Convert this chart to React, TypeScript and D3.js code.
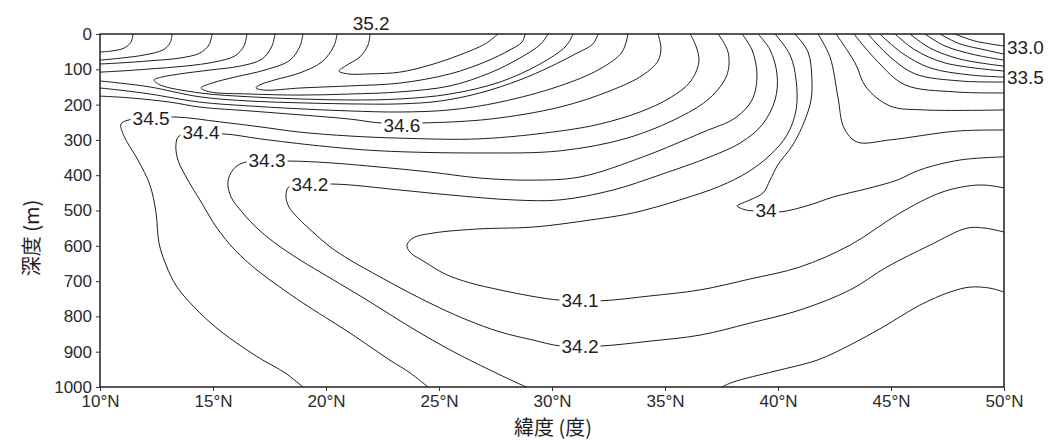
import { useEffect, useRef } from 'react';

import * as d3 from 'd3';

const width = 1054;
const height = 446;
const [left, right, top, bottom] = [100, 1004, 34, 387];

type Pt = [number, number]; // [緯度 °N, 深度 m]

// 塩分の等値線 (読み取り値)
const s352: Pt[] = [[21.95, 0], [21.86, 31], [21.5, 65], [20.93, 88], [20.58, 105], [20.97, 113], [21.95, 113], [23.27, 108], [24.6, 88], [25.93, 59], [27.04, 28], [27.61, 0]];
const s351: Pt[] = [[20.49, 0], [20.35, 34], [19.82, 79], [18.85, 110], [17.74, 130], [17.08, 144], [16.9, 153], [17.3, 159], [18.85, 153], [21.06, 147], [23.27, 139], [25.49, 113], [27.04, 79], [28.14, 45], [28.67, 23], [28.81, 0]];
const s350: Pt[] = [[18.98, 0], [18.85, 34], [18.41, 74], [17.3, 102], [15.97, 122], [14.96, 139], [14.47, 153], [14.87, 164], [16.64, 170], [18.85, 173], [21.06, 170], [23.27, 164], [25.49, 147], [27.26, 110], [28.58, 68], [29.51, 28], [29.82, 0]];
const s349: Pt[] = [[17.74, 0], [17.61, 34], [17.17, 71], [16.19, 91], [14.87, 102], [13.54, 113], [12.74, 122], [12.39, 130], [12.65, 144], [14.42, 167], [16.64, 178], [18.85, 184], [21.06, 187], [23.27, 184], [25.49, 170], [27.7, 136], [29.47, 85], [30.62, 34], [30.93, 0]];
const s348a: Pt[] = [[16.5, 0], [16.37, 34], [15.97, 62], [15.09, 79], [13.76, 91], [12.21, 99], [10.88, 105], [10, 108]];
const s348b: Pt[] = [[10, 133], [10.88, 139], [12.21, 150], [14.42, 178], [16.64, 190], [18.85, 195], [21.06, 198], [23.27, 198], [25.04, 190], [26.81, 167], [28.58, 130], [29.91, 93], [31.02, 57], [31.81, 28], [32.04, 0]];
const s347a: Pt[] = [[14.96, 0], [14.82, 31], [14.42, 54], [13.54, 68], [12.21, 76], [10.88, 82], [10, 85]];
const s347b: Pt[] = [[10, 153], [10.88, 159], [12.21, 170], [14.42, 193], [16.64, 204], [18.85, 212], [21.06, 218], [23.27, 221], [25.49, 215], [27.7, 193], [30.35, 147], [32.12, 99], [33.1, 51], [33.36, 0]];
const s346a: Pt[] = [[13.19, 0], [13.1, 25], [12.79, 45], [11.99, 59], [10.97, 68], [10, 74]];
const s346b: Pt[] = [[10, 176], [11.33, 181], [13.1, 193], [14.42, 207], [16.64, 218], [18.85, 229], [21.06, 241], [22.43, 252], [24.29, 252], [27.26, 241], [30.35, 207], [32.57, 161], [34.03, 116], [34.69, 76], [34.82, 40], [34.69, 0]];
const s345a: Pt[] = [[11.46, 0], [11.37, 23], [11.06, 40], [10.53, 48], [10, 51]];
const s345b: Pt[] = [[18.98, 1000], [18.19, 960], [17.21, 924], [16.64, 901], [15.44, 847], [14.42, 790], [13.41, 717], [12.92, 654], [12.61, 592], [12.48, 507], [12.21, 428], [11.68, 357], [11.06, 289], [10.93, 255], [11.24, 244], [13.27, 235], [15.31, 249], [17.08, 263], [18.85, 278], [21.06, 289], [23.27, 295], [26.81, 297], [30.35, 275], [32.12, 255], [33.89, 221], [35.22, 181], [36.11, 136], [36.5, 79], [36.37, 34], [36.11, 0]];
const s344: Pt[] = [[24.51, 1000], [23.72, 960], [22.83, 924], [21.06, 847], [18.98, 762], [17.96, 717], [16.95, 669], [15.97, 612], [15.18, 550], [14.42, 470], [13.89, 414], [13.45, 357], [13.36, 314], [13.5, 289], [15.44, 283], [17.08, 297], [19.73, 317], [22.39, 331], [26.81, 337], [30.35, 331], [33.32, 295], [35.66, 235], [36.99, 181], [37.74, 116], [37.79, 51], [37.35, 0]];
const s343a: Pt[] = [[28.89, 1000], [28.58, 992], [27.26, 952], [25.49, 895], [23.72, 830], [21.95, 759], [20.18, 691], [18.85, 640], [17.74, 592], [16.95, 550], [16.28, 504], [15.8, 462], [15.66, 419], [15.88, 385], [16.33, 365], [18.36, 360], [20.18, 365], [22.39, 377], [24.6, 391], [26.81, 408], [29.03, 414], [31.24, 405], [34.03, 348], [36.68, 278], [38.1, 238], [38.85, 187], [39.07, 116], [38.85, 45], [38.41, 0]];
const s343b: Pt[] = [[37.52, 1000], [38.01, 986], [39.87, 955], [41.73, 924], [43.19, 881], [44.65, 830], [46.28, 768], [47.61, 731], [48.5, 717], [49.38, 720], [50, 731]];
const s342: Pt[] = [[50, 561], [49.16, 550], [48.36, 550], [46.73, 598], [44.82, 660], [43.19, 725], [40.97, 782], [38.76, 819], [36.55, 853], [34.34, 870], [32.12, 884], [30.4, 884], [29.16, 867], [27.7, 844], [26.24, 810], [25.04, 776], [23.72, 734], [22.39, 688], [21.06, 640], [20.18, 603], [19.42, 561], [18.76, 521], [18.36, 490], [18.23, 459], [18.36, 433], [20.27, 425], [23.27, 442], [25.49, 456], [28.27, 470], [30.35, 470], [32.7, 442], [34.78, 399], [36.99, 348], [38.32, 309], [39.29, 258], [39.87, 187], [39.96, 116], [39.65, 45], [39.12, 0]];
const s341: Pt[] = [[50, 436], [49.16, 428], [48.36, 431], [47.17, 450], [45.4, 507], [43.19, 598], [40.97, 660], [38.76, 694], [36.55, 725], [34.34, 742], [32.12, 756], [30.35, 754], [29.03, 742], [27.7, 725], [26.37, 705], [25.27, 680], [24.38, 646], [23.72, 618], [23.58, 598], [23.85, 578], [24.73, 564], [26.81, 552], [29.16, 547], [31.68, 527], [33.58, 507], [35.66, 470], [37.43, 431], [38.67, 391], [39.65, 343], [40.4, 286], [40.8, 215], [40.8, 130], [40.53, 59], [39.87, 0]];
const s340: Pt[] = [[40.75, 0], [41.33, 51], [41.5, 130], [41.46, 187], [41.19, 244], [40.66, 314], [39.99, 371], [39.65, 414], [39.34, 450], [38.76, 470], [38.32, 482], [38.19, 487], [38.54, 498], [38.98, 501], [40.09, 504], [41.42, 484], [42.43, 462], [44.07, 436], [45.27, 414], [46.28, 385], [48.05, 357], [50, 348]];
const s339: Pt[] = [[41.77, 0], [42.3, 65], [42.65, 178], [42.92, 266], [43.5, 306], [44.96, 300], [47.92, 275], [50, 272]];
const s338: Pt[] = [[42.57, 0], [43.41, 82], [43.89, 150], [44.96, 204], [46.42, 215], [50, 215]];
const s337: Pt[] = [[43.36, 0], [44.42, 79], [45.62, 144], [47.83, 164], [50, 167]];
const s336: Pt[] = [[43.98, 0], [44.96, 65], [46.06, 113], [48.05, 133], [50, 136]];
const s335: Pt[] = [[44.51, 0], [45.49, 54], [46.73, 96], [48.5, 116], [50, 122]];
const s334: Pt[] = [[45.18, 0], [46.06, 45], [47.39, 82], [50, 105]];
const s333: Pt[] = [[45.84, 0], [46.73, 40], [48.05, 71], [50, 91]];
const s332: Pt[] = [[46.5, 0], [47.39, 34], [48.72, 59], [50, 74]];
const s331: Pt[] = [[47.17, 0], [48.05, 28], [49.16, 45], [50, 57]];
const s330: Pt[] = [[47.83, 0], [48.72, 20], [50, 34]];

const contourLines: Pt[][] = [
    s352, s351, s350, s349, s348a, s348b, s347a, s347b, s346a, s346b, s345a, s345b,
    s344, s343a, s343b, s342, s341, s340, s339, s338, s337, s336, s335, s334, s333, s332, s331, s330
];

// 等値線ラベル
const labelTexts = ['35.2', '34.5', '34.4', '34.3', '34.2', '34.6', '34.1', '34.2', '34', '33.0', '33.5'];
const labelLats = [22.0, 12.26, 14.47, 17.39, 19.29, 23.36, 31.24, 31.24, 39.47, 50.13, 50.13];
const labelDepths = [-31, 238, 280, 357, 425, 258, 756, 884, 499, 37, 122];

const depthTicks = [0, 100, 200, 300, 400, 500, 600, 700, 800, 900, 1000];
const latTicks = [10, 15, 20, 25, 30, 35, 40, 45, 50];

const numFont = '"Liberation Sans", Arial, sans-serif';
const cjkFont = '"Noto Sans CJK JP", "Noto Sans CJK TC", sans-serif';

export default function App() {
    const chart = useRef<SVGSVGElement>(null);

    useEffect(() => {
        const svg = d3.select(chart.current);
        svg.selectAll('*').remove();

        const x = d3.scaleLinear().domain([10, 50]).range([left, right]);
        const y = d3.scaleLinear().domain([0, 1000]).range([top, bottom]);

        svg.append('defs')
            .append('clipPath')
            .attr('id', 'plot-area')
            .append('rect')
            .attr('x', left)
            .attr('y', top)
            .attr('width', right - left)
            .attr('height', bottom - top);

        const line = d3
            .line<Pt>()
            .x((d) => x(d[0]))
            .y((d) => y(d[1]))
            .curve(d3.curveCatmullRom.alpha(0.5));

        svg.append('g')
            .attr('clip-path', 'url(#plot-area)')
            .selectAll('path')
            .data(contourLines)
            .join('path')
            .attr('d', (d) => line(d))
            .attr('fill', 'none')
            .attr('stroke', '#1e1e1e')
            .attr('stroke-width', 1);

        // ラベル (線の上に白い背景)
        const lg = svg.append('g');
        labelTexts.forEach((txt, i) => {
            const outside = labelLats[i] > 50 || labelDepths[i] < 0;
            const t = lg
                .append('text')
                .attr('x', x(labelLats[i]))
                .attr('y', y(labelDepths[i]))
                .attr('text-anchor', labelLats[i] > 50 ? 'start' : 'middle')
                .attr('dominant-baseline', 'central')
                .attr('font-family', numFont)
                .attr('font-size', 19)
                .attr('fill', '#1e1e1e')
                .text(txt);
            if (!outside) {
                const b = (t.node() as SVGTextElement).getBBox();
                lg.insert('rect', () => t.node() as SVGTextElement)
                    .attr('x', b.x - 2)
                    .attr('y', b.y + 2)
                    .attr('width', b.width + 4)
                    .attr('height', b.height - 4)
                    .attr('fill', '#ffffff');
            }
        });

        // 枠
        svg.append('rect')
            .attr('x', left)
            .attr('y', top)
            .attr('width', right - left)
            .attr('height', bottom - top)
            .attr('fill', 'none')
            .attr('stroke', '#111')
            .attr('stroke-width', 1.4);

        const yAxis = d3
            .axisLeft(y)
            .tickValues(depthTicks)
            .tickSize(4)
            .tickPadding(4)
            .tickFormat((d) => String(d));
        svg.append('g')
            .attr('transform', `translate(${left},0)`)
            .call(yAxis)
            .call((g) => g.select('.domain').remove())
            .call((g) => g.selectAll('text').attr('font-family', numFont).attr('font-size', 17).attr('fill', '#2a2a2a'))
            .call((g) => g.selectAll('line').attr('stroke', '#333'));

        const xAxis = d3
            .axisBottom(x)
            .tickValues(latTicks)
            .tickSize(4)
            .tickPadding(4)
            .tickFormat((d) => `${d}°N`);
        svg.append('g')
            .attr('transform', `translate(0,${bottom})`)
            .call(xAxis)
            .call((g) => g.select('.domain').remove())
            .call((g) => g.selectAll('text').attr('font-family', numFont).attr('font-size', 17).attr('fill', '#2a2a2a'))
            .call((g) => g.selectAll('line').attr('stroke', '#333'));

        svg.append('text')
            .attr('transform', `translate(30,238) rotate(-90)`)
            .attr('text-anchor', 'middle')
            .attr('dominant-baseline', 'central')
            .attr('font-family', cjkFont)
            .attr('font-size', 20)
            .attr('fill', '#1e1e1e')
            .text('深度 (m)');

        svg.append('text')
            .attr('x', 553)
            .attr('y', 426)
            .attr('text-anchor', 'middle')
            .attr('dominant-baseline', 'central')
            .attr('font-family', cjkFont)
            .attr('font-size', 20)
            .attr('fill', '#1e1e1e')
            .text('緯度 (度)');
    }, []);

    return (
        <svg
            ref={chart}
            width={width}
            height={height}
            style={{ position: 'absolute', left: 0, top: 0, background: '#ffffff' }}
        />
    );
}
